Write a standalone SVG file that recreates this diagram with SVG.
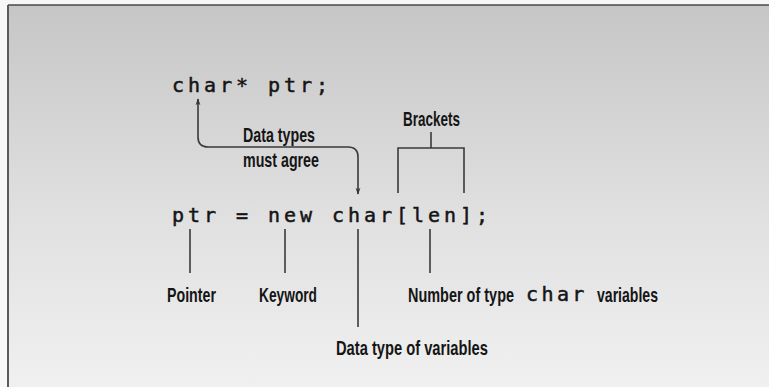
<svg xmlns="http://www.w3.org/2000/svg" width="769" height="387" viewBox="0 0 769 387">
  <defs>
    <linearGradient id="bg" x1="0" y1="0" x2="0" y2="1">
      <stop offset="0" stop-color="#c6c6c6"/>
      <stop offset="0.55" stop-color="#e0e0e0"/>
      <stop offset="1" stop-color="#f0f0f0"/>
    </linearGradient>
    <marker id="arr" viewBox="0 0 10 10" refX="9" refY="5" markerWidth="7" markerHeight="7" orient="auto-start-reverse" markerUnits="userSpaceOnUse">
      <path d="M0,1.5 L10,5 L0,8.5 L3,5 Z" fill="#333"/>
    </marker>
    <style>
      .code { font-family: "DejaVu Sans Mono", "Liberation Mono", monospace; font-size: 20px; fill: #151515; stroke: #151515; stroke-width: 0.5; letter-spacing: 3.96px; }
      .lbl { font-family: "Liberation Sans", Arial, sans-serif; font-size: 20px; font-weight: bold; fill: #151515; }
      .ln { stroke: #3a3a3a; stroke-width: 1.6; fill: none; }
    </style>
  </defs>

  <rect x="0" y="0" width="769" height="387" fill="#f7f7f7"/>
  <rect x="8" y="5" width="761" height="382" fill="url(#bg)"/>
  <line x1="8" y1="5" x2="769" y2="5" stroke="#4a4a4a" stroke-width="1.5"/>
  <line x1="8" y1="5" x2="8" y2="387" stroke="#5a5a5a" stroke-width="2"/>

  <g id="code1">
    <text class="code" x="172" y="92">char* ptr;</text>
  </g>
  <g id="code2">
    <text class="code" x="172" y="222">ptr = new char[len];</text>
  </g>

  <g id="label-agree">
    <text class="lbl" transform="translate(243,142) scale(0.71,1)" textLength="101.4" lengthAdjust="spacingAndGlyphs">Data types</text>
    <text class="lbl" transform="translate(243,167) scale(0.71,1)" textLength="107" lengthAdjust="spacingAndGlyphs">must agree</text>
  </g>
  <g id="label-brackets">
    <text class="lbl" transform="translate(403,126) scale(0.71,1)" textLength="80.3" lengthAdjust="spacingAndGlyphs">Brackets</text>
  </g>
  <g id="label-pointer">
    <text class="lbl" transform="translate(167,302) scale(0.71,1)" textLength="69" lengthAdjust="spacingAndGlyphs">Pointer</text>
  </g>
  <g id="label-keyword">
    <text class="lbl" transform="translate(259,302) scale(0.71,1)" textLength="81.7" lengthAdjust="spacingAndGlyphs">Keyword</text>
  </g>
  <g id="label-number">
    <text class="lbl" transform="translate(408,302) scale(0.71,1)" textLength="149.3" lengthAdjust="spacingAndGlyphs">Number of type</text>
    <text class="code" x="526" y="301" style="letter-spacing:3.4px">char</text>
    <text class="lbl" transform="translate(597,302) scale(0.71,1)" textLength="85.9" lengthAdjust="spacingAndGlyphs">variables</text>
  </g>
  <g id="label-datatype">
    <text class="lbl" transform="translate(336,355) scale(0.71,1)" textLength="214" lengthAdjust="spacingAndGlyphs">Data type of variables</text>
  </g>

  <g id="connectors">
    <path class="ln" d="M358,194 V157 Q358,147 348,147 H208 Q198,147 198,137 V99" marker-start="url(#arr)" marker-end="url(#arr)"/>
    <path class="ln" d="M431,132 V148 M398,193 V148 H464 V193"/>
    <line class="ln" x1="190" y1="229" x2="190" y2="273"/>
    <line class="ln" x1="285" y1="229" x2="285" y2="273"/>
    <line class="ln" x1="358" y1="229" x2="358" y2="327"/>
    <line class="ln" x1="430" y1="229" x2="430" y2="273"/>
  </g>
</svg>
